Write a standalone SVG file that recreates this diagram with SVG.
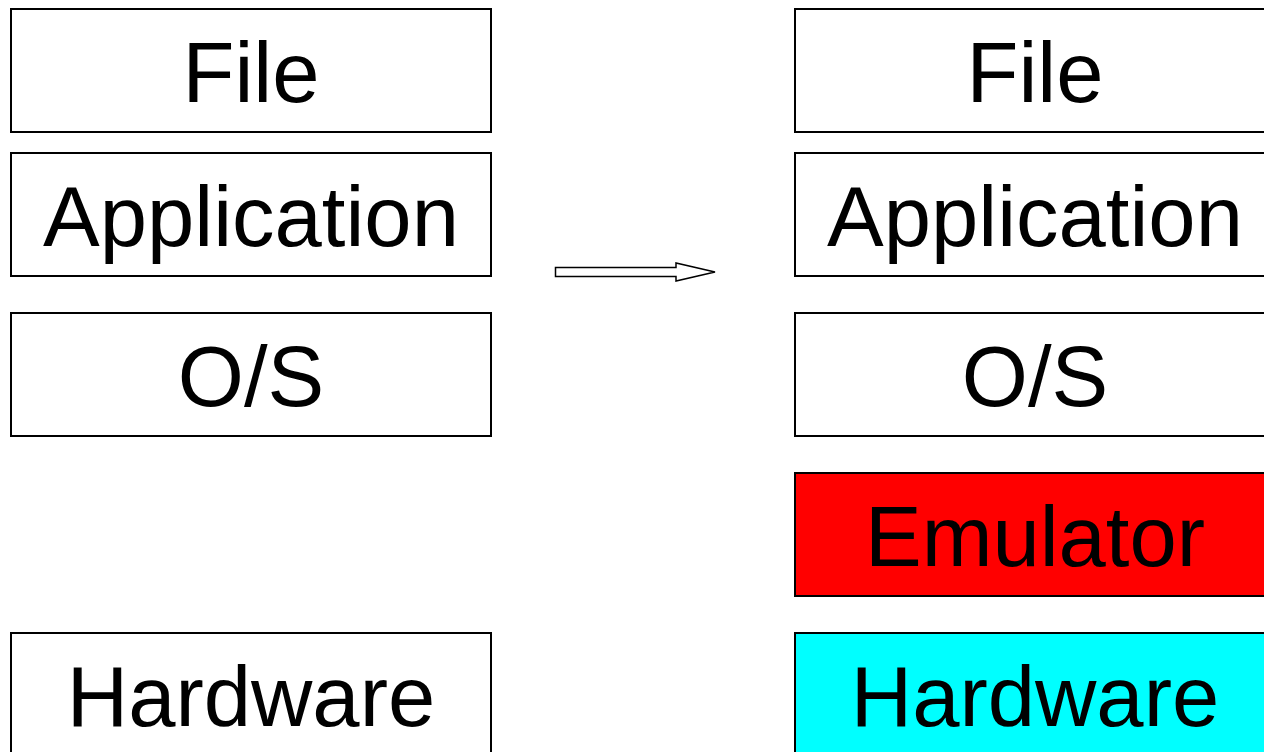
<svg xmlns="http://www.w3.org/2000/svg" width="1264" height="752" viewBox="0 0 1264 752">
<style>
.box{stroke:#000;stroke-width:2;fill:#fff}
.lbl{font-family:"Liberation Sans",Arial,sans-serif;font-size:85px;text-anchor:middle;fill:#000}
</style>
<rect width="1264" height="752" fill="#fff"/>
<g id="l-file"><rect class="box" x="11" y="9" width="480" height="123"/><text class="lbl" x="251" y="102">File</text></g>
<g id="l-app"><rect class="box" x="11" y="153" width="480" height="123"/><text class="lbl" x="251" y="246">Application</text></g>
<g id="l-os"><rect class="box" x="11" y="313" width="480" height="123"/><text class="lbl" x="251" y="406">O/S</text></g>
<g id="l-hw"><rect class="box" x="11" y="633" width="480" height="123"/><text class="lbl" x="251" y="726">Hardware</text></g>
<g id="r-file"><rect class="box" x="795" y="9" width="480" height="123"/><text class="lbl" x="1035" y="102">File</text></g>
<g id="r-app"><rect class="box" x="795" y="153" width="480" height="123"/><text class="lbl" x="1035" y="246">Application</text></g>
<g id="r-os"><rect class="box" x="795" y="313" width="480" height="123"/><text class="lbl" x="1035" y="406">O/S</text></g>
<g id="r-emu"><rect class="box" x="795" y="473" width="480" height="123" style="fill:#ff0000"/><text class="lbl" x="1035" y="566">Emulator</text></g>
<g id="r-hw"><rect class="box" x="795" y="633" width="480" height="123" style="fill:#00ffff"/><text class="lbl" x="1035" y="726">Hardware</text></g>
<g id="connectors">
<path d="M555.5 267.5 H676 V263 L715 272 L676 281 V276.5 H555.5 Z" fill="#fff" stroke="#000" stroke-width="1.5" stroke-linejoin="miter"/>
</g>
</svg>
